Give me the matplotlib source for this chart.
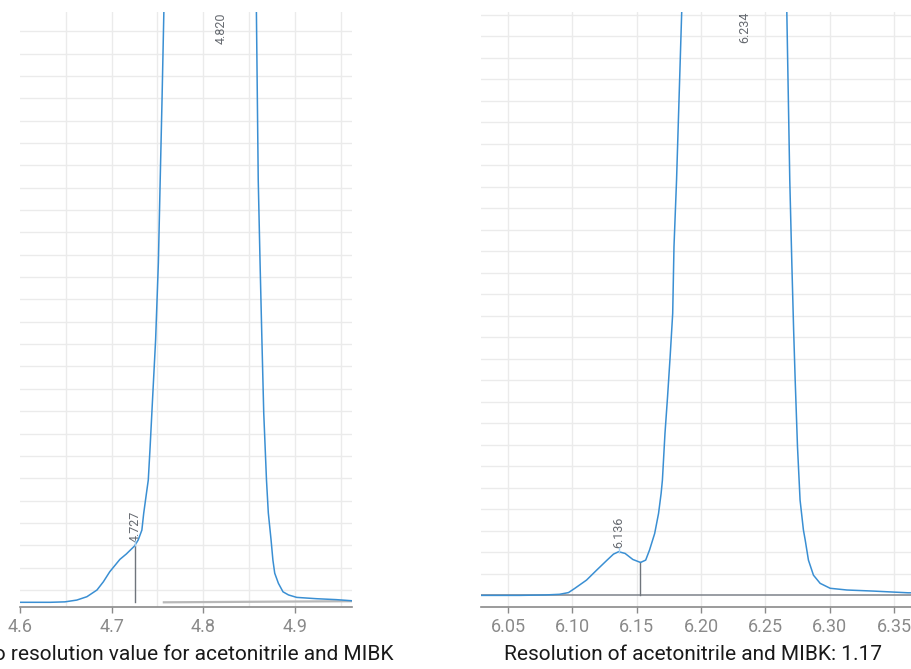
import matplotlib
matplotlib.use("Agg")
import matplotlib.pyplot as plt

plt.rcParams['font.family'] = ['Roboto', 'DejaVu Sans']

# left chromatogram (retention time in min, signal in arbitrary units)
left_time = [4.600, 4.633, 4.649, 4.662, 4.673, 4.684, 4.691, 4.698, 4.704, 4.709,
             4.716, 4.725, 4.729, 4.733, 4.735, 4.738, 4.740, 4.742, 4.745, 4.748,
             4.751, 4.753, 4.755, 4.757, 4.758, 4.820, 4.857, 4.858, 4.860, 4.862,
             4.864, 4.866, 4.869, 4.871, 4.874, 4.876, 4.878, 4.882, 4.887, 4.893,
             4.902, 4.924, 4.945, 4.962]
left_signal = [-0.55, -0.55, -0.53, -0.45, -0.30, 0.00, 0.37, 0.82, 1.12, 1.37,
               1.61, 1.97, 2.24, 2.68, 3.43, 4.33, 4.92, 6.40, 8.81, 11.19,
               14.63, 18.34, 21.92, 25.86, 26.40, 150.0, 26.40, 25.86, 18.34, 14.63,
               11.19, 7.92, 4.92, 3.45, 2.24, 1.34, 0.75, 0.30, -0.08, -0.22,
               -0.33, -0.39, -0.43, -0.48]
left_peaks = [4.727, 4.820]
left_drop = 4.7254
left_drop_signal = 1.97
left_base_time = [4.757, 4.962]
left_base_signal = [-0.55, -0.50]

# right chromatogram
right_time = [6.029, 6.059, 6.079, 6.090, 6.097, 6.102, 6.111, 6.119, 6.127, 6.132,
              6.136, 6.141, 6.147, 6.153, 6.157, 6.160, 6.164, 6.167, 6.169, 6.170,
              6.172, 6.174, 6.176, 6.178, 6.179, 6.181, 6.185, 6.1852, 6.234, 6.266,
              6.2667, 6.269, 6.2706, 6.272, 6.2732, 6.275, 6.277, 6.2796, 6.281, 6.2835,
              6.2874, 6.2926, 6.3004, 6.3134, 6.334, 6.361, 6.364]
right_signal = [0.00, 0.00, 0.02, 0.05, 0.13, 0.33, 0.71, 1.18, 1.64, 1.92,
                2.03, 1.95, 1.67, 1.53, 1.64, 2.11, 2.88, 3.81, 4.74, 5.36,
                7.53, 9.23, 11.09, 13.11, 16.21, 19.31, 27.12, 27.70, 150.0, 27.70,
                27.12, 19.31, 15.43, 12.33, 10.01, 6.91, 4.43, 3.04, 2.57, 1.64,
                0.94, 0.56, 0.33, 0.25, 0.20, 0.12, 0.12]
right_peaks = [6.136, 6.234]
right_peak_signal = 2.03
right_drop = 6.1526
right_drop_signal = 1.53

captions = ["No resolution value for acetonitrile and MIBK",
            "Resolution of acetonitrile and MIBK: 1.17"]

blue = '#3a8fd3'
grid = '#ebebeb'
axgrey = '#8a8a8a'
labgrey = '#666a70'

fig = plt.figure(figsize=(9.12, 6.69), dpi=100)
ax1 = fig.add_axes([20/912, 62/669, 331.7/912, 595/669])
ax2 = fig.add_axes([481/912, 62/669, 431/912, 595/669])


def style(ax, xlim, ylim, xticks, xgrid, ygrid, fmt):
    ax.set_xlim(xlim)
    ax.set_ylim(ylim)
    for s in ['top', 'left', 'right']:
        ax.spines[s].set_visible(False)
    ax.spines['bottom'].set_color(axgrey)
    ax.spines['bottom'].set_linewidth(1.2)
    ax.set_yticks([])
    ax.set_xticks(xticks)
    ax.set_xticklabels([fmt % t for t in xticks])
    ax.tick_params(axis='x', colors=axgrey, labelsize=13, length=4, width=1, pad=4)
    for g in xgrid:
        ax.axvline(g, color=grid, lw=1, zorder=0)
    for g in ygrid:
        ax.axhline(g, color=grid, lw=1, zorder=0)


style(ax1, (4.6, 4.962), (-0.76, 25.86), [4.6, 4.7, 4.8, 4.9],
      [4.65, 4.7, 4.75, 4.8, 4.85, 4.9, 4.95], range(0, 26), '%.1f')
style(ax2, (6.029, 6.364), (-0.54, 27.12), [6.05, 6.10, 6.15, 6.20, 6.25, 6.30, 6.35],
      [6.05, 6.10, 6.15, 6.20, 6.25, 6.30, 6.35], range(1, 28), '%.2f')

# left panel
ax1.plot(left_base_time, left_base_signal, color='#b8b8b8', lw=1.6, zorder=2)
ax1.plot(left_time, left_signal, color=blue, lw=1.1, zorder=3)
ax1.plot([left_drop, left_drop], [-0.55, left_drop_signal], color='#6f757c', lw=1, zorder=2)
ax1.plot([left_drop], [left_drop_signal + 0.15], marker='|', color='#a5cdee', ms=4, zorder=4)
ax1.annotate('%.3f' % left_peaks[0], (left_drop, left_drop_signal), xytext=(0, 3),
             textcoords='offset points', rotation=90, ha='center', va='bottom',
             fontsize=9, color=labgrey)
ax1.annotate('%.3f' % left_peaks[1], (left_peaks[1], 25.86), xytext=(0, 0),
             textcoords='offset points', rotation=90, ha='center', va='top',
             fontsize=9, color=labgrey)

# right panel
ax2.axhline(0, color='#7d828a', lw=1.1, zorder=2)
ax2.plot(right_time, right_signal, color=blue, lw=1.1, zorder=3)
ax2.plot([right_drop, right_drop], [0, right_drop_signal], color='#6f757c', lw=1, zorder=2)
ax2.plot([right_peaks[0]], [right_peak_signal + 0.1], marker='|', color='#a5cdee', ms=4, zorder=4)
ax2.annotate('%.3f' % right_peaks[0], (right_peaks[0], right_peak_signal), xytext=(0, 3),
             textcoords='offset points', rotation=90, ha='center', va='bottom',
             fontsize=9, color=labgrey)
ax2.annotate('%.3f' % right_peaks[1], (right_peaks[1], 27.12), xytext=(0, 0),
             textcoords='offset points', rotation=90, ha='center', va='top',
             fontsize=9, color=labgrey)

fig.text(186/912, 14/669, captions[0], ha='center', va='center', fontsize=15, color='#1a1a1a')
fig.text(693/912, 14/669, captions[1], ha='center', va='center', fontsize=15, color='#1a1a1a')

fig.savefig('out.png', dpi=100)
